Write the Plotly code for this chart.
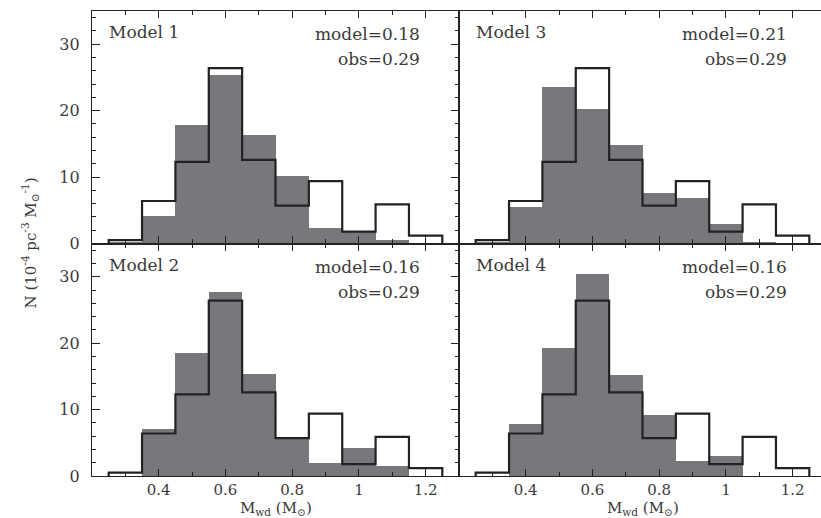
import numpy as np
import plotly.graph_objects as go

# ---------------- data ----------------
bin_centers = [0.3, 0.4, 0.5, 0.6, 0.7, 0.8, 0.9, 1.0, 1.1, 1.2]
obs_values = [0.5, 6.4, 12.3, 26.4, 12.6, 5.7, 9.4, 1.8, 5.9, 1.2]
model1_values = [0.3, 4.1, 17.8, 25.4, 16.3, 10.2, 2.4, 1.8, 0.5, 0.0]
model2_values = [0.0, 7.2, 18.6, 27.7, 15.5, 5.8, 2.1, 4.3, 1.6, 0.0]
model3_values = [0.2, 5.5, 23.6, 20.3, 14.8, 7.6, 6.9, 3.0, 0.3, 0.0]
model4_values = [0.0, 7.9, 19.3, 30.5, 15.3, 9.3, 2.4, 3.1, 0.0, 0.0]
panel_names = ["Model 1", "Model 3", "Model 2", "Model 4"]
model_stats = ["0.18", "0.21", "0.16", "0.16"]
obs_stat = "0.29"
x_tick_vals = [0.4, 0.6, 0.8, 1.0, 1.2]
x_tick_text = ["0.4", "0.6", "0.8", "1", "1.2"]
y_tick_vals = [0, 10, 20, 30]
y_tick_text = ["0", "10", "20", "30"]

BIN_W = 0.1
GRAY = "#77787c"
INK = "#222222"
TXT = "#3a3a3a"
FONT = "DejaVu Serif"

# panel order: top-left, top-right, bottom-left, bottom-right
panel_models = [model1_values, model3_values, model2_values, model4_values]
axes = [("x", "y"), ("x2", "y2"), ("x3", "y3"), ("x4", "y4")]

# step outline for observed histogram (from bin edges)
centers = np.array(bin_centers)
edges = np.concatenate([centers - BIN_W / 2, [centers[-1] + BIN_W / 2]])
step_x = np.repeat(edges, 2)
step_y = np.concatenate([[0], np.repeat(obs_values, 2), [0]])

fig = go.Figure()
for vals, (xa, ya) in zip(panel_models, axes):
    fig.add_trace(go.Bar(x=bin_centers, y=vals, width=BIN_W, marker=dict(color=GRAY, line=dict(width=0)),
                         xaxis=xa, yaxis=ya, showlegend=False, hoverinfo="skip"))
    fig.add_trace(go.Scatter(x=step_x, y=step_y, mode="lines", line=dict(color=INK, width=2.2),
                             xaxis=xa, yaxis=ya, showlegend=False, hoverinfo="skip"))

W, H = 821, 518
ml, mr, mt, mb = 92, 0, 11, 42
plot_w = W - ml - mr
left_px = 367
split = left_px / plot_w
px_per_unit = left_px / 1.1
right_max = 0.2 + (plot_w - left_px) / px_per_unit

def xaxis(dom, rng, labels, anchor):
    return dict(domain=dom, range=rng, anchor=anchor, tickvals=x_tick_vals,
                ticktext=x_tick_text if labels else [""] * len(x_tick_vals),
                showticklabels=labels, ticks="inside", ticklen=7, tickwidth=1.2, tickcolor=INK,
                minor=dict(tickvals=[0.3, 0.5, 0.7, 0.9, 1.1], ticks="inside", ticklen=4, tickwidth=1.1, tickcolor=INK),
                showline=True, linecolor=INK, linewidth=1.3, mirror="ticks", showgrid=False, zeroline=False,
                ticklabelstandoff=0, tickfont=dict(family=FONT, size=15, color=TXT))

def yaxis(dom, labels, anchor, mirror):
    return dict(domain=dom, range=[0, 35], anchor=anchor, tickvals=y_tick_vals, ticktext=y_tick_text,
                showticklabels=labels, ticks="inside" if labels else "", ticklen=8, tickwidth=1.2, tickcolor=INK,
                minor=dict(dtick=2, ticks="inside" if labels else "", ticklen=4, tickwidth=1.1, tickcolor=INK),
                showline=True, linecolor=INK, linewidth=1.3, mirror=mirror, showgrid=False, zeroline=False,
                ticklabelstandoff=8, tickfont=dict(family=FONT, size=16, color=TXT))

fig.update_layout(
    width=W, height=H, margin=dict(l=ml, r=mr, t=mt, b=mb, autoexpand=False),
    paper_bgcolor="white", plot_bgcolor="white", barmode="overlay", bargap=0,
    xaxis=xaxis([0, split], [0.2, 1.3], False, "y"),
    xaxis2=xaxis([split, 1], [0.2, right_max], False, "y2"),
    xaxis3=xaxis([0, split], [0.2, 1.3], True, "y3"),
    xaxis4=xaxis([split, 1], [0.2, right_max], True, "y4"),
    yaxis=yaxis([0.5, 1], True, "x", "ticks"),
    yaxis2=yaxis([0.5, 1], False, "x2", False),
    yaxis3=yaxis([0, 0.5], True, "x3", "ticks"),
    yaxis4=yaxis([0, 0.5], False, "x4", False),
)

annos = []
for name, stat, (xa, ya) in zip(panel_names, model_stats, axes):
    annos.append(dict(x=0.245, y=31.8, xref=xa, yref=ya, text=name, showarrow=False, xanchor="left",
                      yanchor="middle", font=dict(family=FONT, size=17, color=TXT)))
    annos.append(dict(x=1.19, y=31.5, xref=xa, yref=ya, text="model=" + stat, showarrow=False, xanchor="right",
                      yanchor="middle", font=dict(family=FONT, size=17, color=TXT)))
    annos.append(dict(x=1.19, y=27.7, xref=xa, yref=ya, text="obs=" + obs_stat, showarrow=False, xanchor="right",
                      yanchor="middle", font=dict(family=FONT, size=17, color=TXT)))

for xa in ["x3", "x4"]:
    annos.append(dict(x=0.75, y=0, xref=xa, yref="paper", yshift=-32, text="M<sub>wd</sub> (M<sub>⊙</sub>)",
                      showarrow=False, xanchor="center", yanchor="middle",
                      font=dict(family=FONT, size=15, color=TXT)))

annos.append(dict(x=0, y=0.5, xref="paper", yref="paper", xshift=-62, textangle=-90,
                  text="N (10<sup>-4</sup> pc<sup>-3</sup> M<sub>⊙</sub><sup>-1</sup>)",
                  showarrow=False, xanchor="center", yanchor="middle",
                  font=dict(family=FONT, size=15, color=TXT)))

fig.update_layout(annotations=annos)
fig.write_html("out.html", config={"displayModeBar": False},
               post_script="document.body.style.margin='0';document.body.style.overflow='hidden';")
